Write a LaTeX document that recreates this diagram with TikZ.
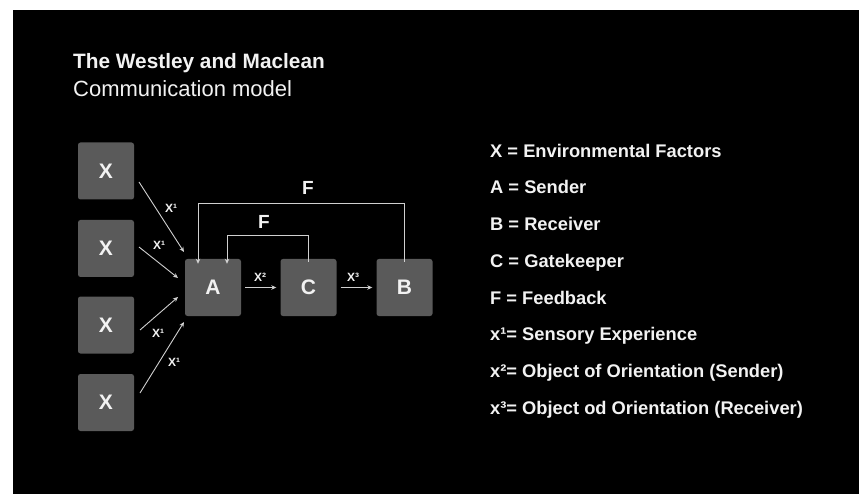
\documentclass[tikz,border=0pt]{standalone}
\usepackage{fontspec}
\setmainfont{Liberation Sans}
\usetikzlibrary{arrows.meta}
\definecolor{boxgray}{HTML}{5A5A5A}
\definecolor{ink}{HTML}{F2F2F2}
\definecolor{wire}{HTML}{D0D0D0}
\tikzset{
  letterbox/.style={draw=none, fill=boxgray, rounded corners=2.5pt, minimum width=56pt,
    minimum height=57pt, inner sep=0pt, text=ink, font=\bfseries\fontsize{21}{21}\selectfont},
  wirearrow/.style={draw=wire, line width=0.9pt, -{Stealth[length=5pt,width=4.5pt]}},
  smalllabel/.style={text=ink, inner sep=0pt, font=\bfseries\fontsize{12}{12}\selectfont},
  flabel/.style={text=ink, inner sep=0pt, font=\bfseries\fontsize{19}{19}\selectfont},
  legend/.style={text=ink, anchor=base west, inner sep=0pt, font=\bfseries\fontsize{18.3}{18.3}\selectfont},
}
\begin{document}
\begin{tikzpicture}[x=1pt,y=-1pt]
  % page and dark panel
  \useasboundingbox (0,0) rectangle (859,494);
  \fill[white] (0,0) rectangle (859,494);
  \fill[black] (13,10) rectangle (859,494);

  % heading
  \node[anchor=base west, text=ink, inner sep=0pt, font=\bfseries\fontsize{20.8}{20.8}\selectfont] (t1) at (73,68.5) {The Westley and Maclean};
  \node[anchor=base west, text=ink, inner sep=0pt, font=\fontsize{22}{22}\selectfont] (t2) at (73,96.5) {Communication model};

  % environmental factors
  \node[letterbox] (x1) at (106,171) {X};
  \node[letterbox] (x2) at (106,248.5) {X};
  \node[letterbox] (x3) at (106,325) {X};
  \node[letterbox] (x4) at (106,402.5) {X};

  % sender, gatekeeper, receiver
  \node[letterbox] (a) at (213,287.5) {A};
  \node[letterbox] (c) at (308.5,287.5) {C};
  \node[letterbox] (b) at (404.5,287.5) {B};

  % sensory inputs to the sender
  \coordinate (a1) at (184,252);
  \coordinate (a2) at (178,278);
  \coordinate (a3) at (178,297);
  \coordinate (a4) at (184,322);
  \draw[wirearrow] (139,182) -- (a1);
  \draw[wirearrow] (139,247) -- (a2);
  \draw[wirearrow] (140,330) -- (a3);
  \draw[wirearrow] (140,393) -- (a4);
  \node[smalllabel] (l1) at (171,208) {X¹};
  \node[smalllabel] (l2) at (159,245.5) {X¹};
  \node[smalllabel] (l3) at (158,333.5) {X¹};
  \node[smalllabel] (l4) at (174,362) {X¹};

  % messages along the chain
  \draw[wirearrow] (a.east) ++(4,0) -- ([xshift=-4pt]c.west);
  \draw[wirearrow] (c.east) ++(4,0) -- ([xshift=-4pt]b.west);
  \node[smalllabel] (m2) at (260,277) {X²};
  \node[smalllabel] (m3) at (353,277) {X³};

  % feedback loops
  \draw[wirearrow] ([yshift=-3pt]b.north) -- (404.5,203) -- (198,203) -- ([xshift=-15pt,yshift=-5pt]a.north);
  \draw[wirearrow] ([yshift=-3pt]c.north) -- (308.5,235) -- (227,235) -- ([xshift=14pt,yshift=-5pt]a.north);
  \node[flabel] (f1) at (308,188) {F};
  \node[flabel] (f2) at (264,222) {F};

  % legend
  \node[legend] (k1) at (490,157.5) {X = Environmental Factors};
  \node[legend] (k2) at (490,194) {A = Sender};
  \node[legend] (k3) at (490,230.5) {B = Receiver};
  \node[legend] (k4) at (490,267.5) {C = Gatekeeper};
  \node[legend] (k5) at (490,304) {F = Feedback};
  \node[legend] (k6) at (490,340.5) {x¹= Sensory Experience};
  \node[legend] (k7) at (490,377.5) {x²= Object of Orientation (Sender)};
  \node[legend] (k8) at (490,414.5) {x³= Object od Orientation (Receiver)};
\end{tikzpicture}
\end{document}
